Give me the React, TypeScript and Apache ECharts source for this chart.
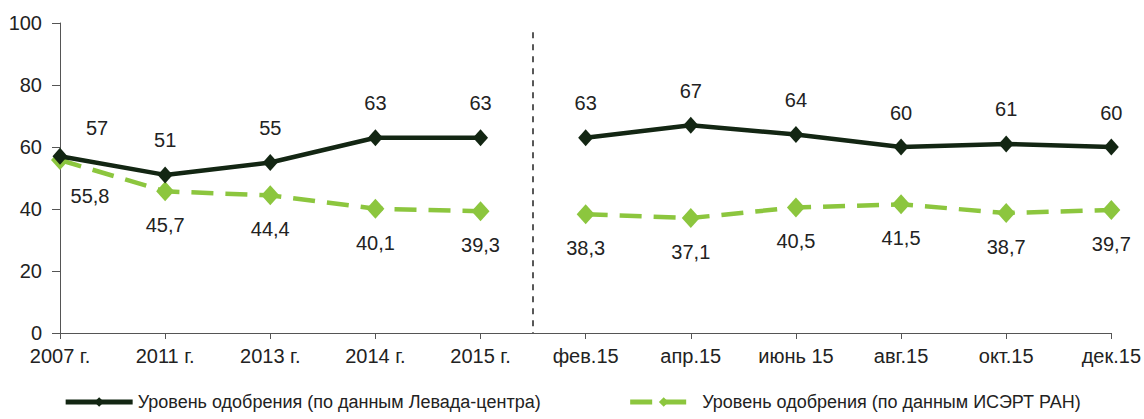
import React, { useEffect, useRef } from "react";
import * as echarts from "echarts";

const categories = ["2007 г.", "2011 г.", "2013 г.", "2014 г.", "2015 г.", "фев.15", "апр.15", "июнь 15", "авг.15", "окт.15", "дек.15"];
const levadaName = "Уровень одобрения (по данным Левада-центра)";
const isertName = "Уровень одобрения (по данным ИСЭРТ РАН)";
const levadaYears = [57, 51, 55, 63, 63];
const levadaMonths = [63, 67, 64, 60, 61, 60];
const isertYears = [55.8, 45.7, 44.4, 40.1, 39.3];
const isertMonths = [38.3, 37.1, 40.5, 41.5, 38.7, 39.7];
const yTicks = { min: 0, max: 100, interval: 20 };
const dividerAt = 4.5;
const dividerTop = 97;

const DARK = "#132613";
const LIGHT = "#8cc63e";
const FONT = "Liberation Sans, Arial, sans-serif";

function pts(values: number[], start: number, first?: any) {
  return values.map((v, i) => {
    const p: any = { value: [start + i, v] };
    if (start + i === 0 && first) p.label = first;
    return p;
  });
}

export default function App() {
  const ref = useRef<HTMLDivElement>(null);
  useEffect(() => {
    document.body.style.margin = "0";
    const chart = echarts.init(ref.current!, null, { renderer: "svg" });
    const fmt = (p: any) => String(p.value[1]).replace(".", ",");
    const darkLabel = { show: true, position: "top", distance: 16, color: "#222", fontSize: 20, fontFamily: FONT, formatter: fmt };
    const lightLabel = { show: true, position: "bottom", distance: 14, color: "#222", fontSize: 20, fontFamily: FONT, formatter: fmt };
    const darkSeries = (data: any) => ({
      name: levadaName, type: "line", data, symbol: "diamond", symbolSize: [15, 17],
      lineStyle: { color: DARK, width: 4.5 }, itemStyle: { color: DARK }, label: darkLabel, z: 3,
    });
    const lightSeries = (data: any) => ({
      name: isertName, type: "line", data, symbol: "diamond", symbolSize: [18, 20],
      lineStyle: { color: LIGHT, width: 4.5, type: [22, 12] }, itemStyle: { color: LIGHT }, label: lightLabel, z: 2,
    });
    chart.setOption({
      animation: false,
      grid: { left: 60, right: 32, top: 23, bottom: 86 },
      xAxis: {
        type: "value", min: 0, max: categories.length - 1, interval: 1,
        splitLine: { show: false },
        axisLine: { lineStyle: { color: "#555", width: 1 } },
        axisTick: { show: true, length: 6, lineStyle: { color: "#555" } },
        axisLabel: { formatter: (v: number) => categories[v] ?? "", color: "#222", fontSize: 20, fontFamily: FONT, margin: 13 },
      },
      yAxis: {
        type: "value", ...yTicks,
        splitLine: { show: false },
        axisLine: { show: true, lineStyle: { color: "#555", width: 1 } },
        axisTick: { show: true, length: 8, lineStyle: { color: "#555" } },
        axisLabel: { color: "#222", fontSize: 20, fontFamily: FONT, margin: 18 },
      },
      legend: {
        bottom: 3, left: "center", itemWidth: 67, itemHeight: 12, itemGap: 87,
        textStyle: { color: "#222", fontSize: 18, fontFamily: FONT },
        lineStyle: { width: 5 },
        data: [levadaName, isertName],
      },
      series: [
        darkSeries(pts(levadaYears, 0, { offset: [37, 6] })),
        {
          ...darkSeries(pts(levadaMonths, 5)),
          markLine: {
            silent: true, symbol: "none", label: { show: false },
            lineStyle: { color: "#222", type: [6, 6], width: 1.5 },
            data: [[{ coord: [dividerAt, dividerTop] }, { coord: [dividerAt, 0] }]],
          },
        },
        lightSeries(pts(isertYears, 0, { offset: [30, 2] })),
        lightSeries(pts(isertMonths, 5)),
      ],
    } as any);
    return () => chart.dispose();
  }, []);
  return <div ref={ref} style={{ width: 1144, height: 419 }} />;
}
